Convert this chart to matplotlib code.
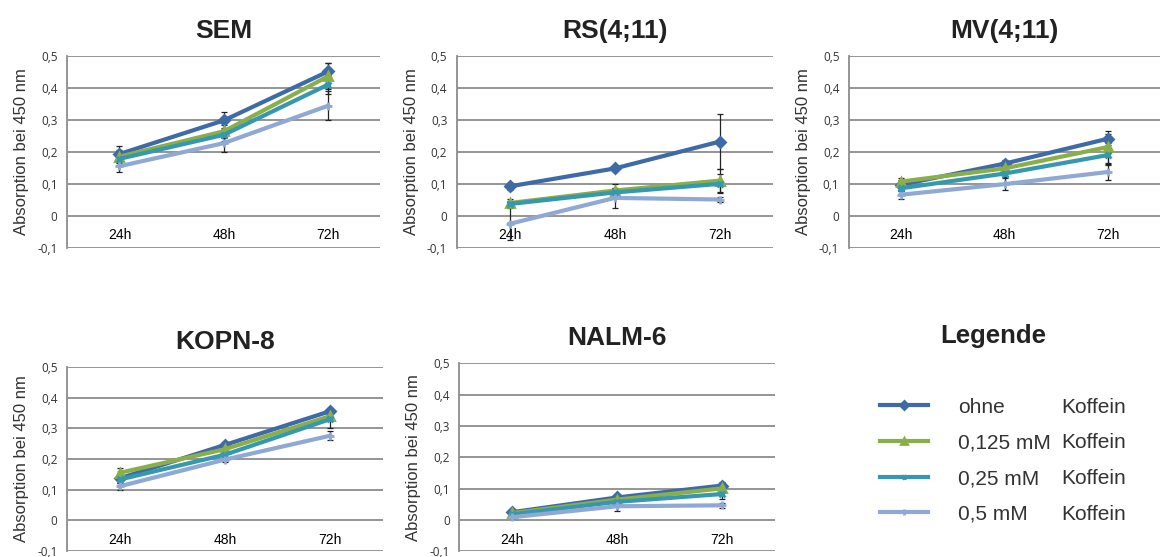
import numpy as np
import matplotlib
matplotlib.use('Agg')
import matplotlib.pyplot as plt

# Zeitpunkte und Reihen
zeiten = ["24h", "48h", "72h"]
reihen = ["ohne", "0,125 mM", "0,25 mM", "0,5 mM"]
farben = ["#3e6aa8", "#8aaf48", "#3698b0", "#8fa8d4"]
marker = ["D", "^", "x", "+"]

# Mittelwerte je Zelllinie (Reihenfolge wie reihen)
sem = [[0.193, 0.298, 0.451], [0.185, 0.264, 0.436], [0.178, 0.253, 0.410], [0.155, 0.227, 0.344]]
rs = [[0.092, 0.148, 0.232], [0.040, 0.079, 0.110], [0.037, 0.073, 0.100], [-0.025, 0.056, 0.051]]
mv = [[0.097, 0.163, 0.241], [0.107, 0.148, 0.215], [0.086, 0.132, 0.190], [0.066, 0.099, 0.137]]
kopn = [[0.137, 0.246, 0.356], [0.155, 0.232, 0.340], [0.133, 0.214, 0.330], [0.111, 0.198, 0.276]]
nalm = [[0.025, 0.072, 0.110], [0.022, 0.065, 0.101], [0.018, 0.058, 0.083], [0.009, 0.044, 0.047]]

# Standardabweichungen
sem_err = [[0.026, 0.027, 0.027], [0.020, 0.020, 0.040], [0.018, 0.020, 0.030], [0.017, 0.027, 0.046]]
rs_err = [[0.012, 0.008, 0.087], [0.012, 0.020, 0.035], [0.010, 0.015, 0.030], [0.050, 0.030, 0.008]]
mv_err = [[0.015, 0.010, 0.015], [0.010, 0.015, 0.050], [0.010, 0.012, 0.030], [0.012, 0.018, 0.025]]
kopn_err = [[0.010, 0.010, 0.010], [0.015, 0.010, 0.010], [0.012, 0.010, 0.030], [0.012, 0.008, 0.015]]
nalm_err = [[0.005, 0.010, 0.012], [0.005, 0.010, 0.010], [0.005, 0.008, 0.015], [0.004, 0.015, 0.008]]

titel = ["SEM", "RS(4;11)", "MV(4;11)", "KOPN-8", "NALM-6"]
daten = [sem, rs, mv, kopn, nalm]
fehler = [sem_err, rs_err, mv_err, kopn_err, nalm_err]
positionen = [[0.058, 0.555, 0.270, 0.345],
              [0.394, 0.555, 0.272, 0.345],
              [0.732, 0.555, 0.268, 0.345],
              [0.058, 0.011, 0.272, 0.330],
              [0.396, 0.010, 0.272, 0.338]]

plt.rcParams['font.family'] = ['Liberation Sans', 'DejaVu Sans']
fig = plt.figure(figsize=(11.6, 5.57), dpi=100)
x = np.arange(len(zeiten)) + 0.5
linien = []

for i in range(5):
    ax = fig.add_axes(positionen[i])
    for j in range(4):
        ax.errorbar(x, daten[i][j], yerr=fehler[i][j], fmt='none', ecolor='#222222',
                    elinewidth=0.9, capsize=2.5, capthick=0.9, zorder=2)
    for j in range(4):
        l, = ax.plot(x, daten[i][j], color=farben[j], lw=3, marker=marker[j],
                     ms=5.5 if marker[j] != 'x' else 5, mew=2, zorder=3, label=reihen[j])
        if i == 0:
            linien.append(l)
    ax.set_xlim(0, 3)
    ax.set_ylim(-0.1, 0.5)
    ax.set_yticks(np.arange(-0.1, 0.51, 0.1))
    ax.set_yticklabels(["-0,1", "0", "0,1", "0,2", "0,3", "0,4", "0,5"],
                       fontsize=8.5, family='Open Sans', color='#333333')
    ax.yaxis.grid(True, color='#8c8c8c', lw=1.3)
    ax.set_axisbelow(True)
    ax.set_xticks(x)
    ax.set_xticklabels(zeiten, fontsize=7.5, family='Open Sans', color='#333333')
    ax.spines['bottom'].set_position(('data', 0))
    ax.spines['bottom'].set_visible(False)
    ax.spines['top'].set_visible(False)
    ax.spines['right'].set_visible(False)
    ax.spines['left'].set_color('#8c8c8c')
    ax.spines['left'].set_linewidth(1.3)
    ax.tick_params(axis='both', length=0)
    ax.tick_params(axis='x', pad=9)
    ax.tick_params(axis='y', pad=7)
    ax.set_ylabel("Absorption bei 450 nm", fontsize=12, color='#333333', labelpad=6)
    ax.set_title(titel[i], fontsize=19, fontweight='bold', color='#222222', pad=13)

# Legende
fig.text(0.856, 0.396, "Legende", ha='center', va='center', fontsize=18.5,
         fontweight='bold', color='#222222')
leg = fig.legend(linien, reihen, loc='upper left', bbox_to_anchor=(880 / 1160, 0.286),
                 frameon=False, fontsize=15, handlelength=2.3, handletextpad=1.45,
                 labelspacing=0.8, borderpad=0, borderaxespad=0, markerscale=0.7,
                 labelcolor='#333333')
fig.canvas.draw()
for t in leg.get_texts():
    bb = t.get_window_extent()
    yc = (bb.y0 + bb.y1) / 2 / fig.bbox.height
    fig.text(1061 / 1160, yc, "Koffein", ha='left', va='center', fontsize=15,
             color='#333333')

fig.savefig("out.png", dpi=100)
